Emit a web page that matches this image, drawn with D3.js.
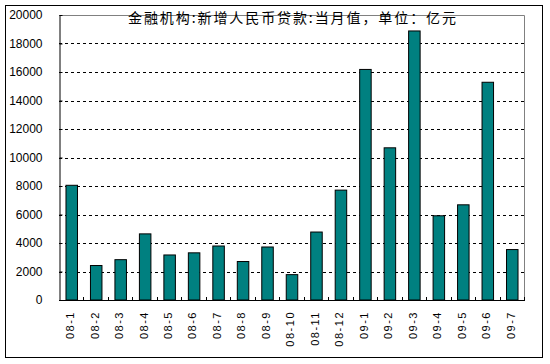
<!DOCTYPE html>
<html><head><meta charset="utf-8">
<script src="https://cdn.jsdelivr.net/npm/d3@7"></script>
<style>body{margin:0;background:#fff}svg{display:block}</style>
</head><body>
<svg id="c" width="550" height="364"></svg>
<script>
const categories = ["08-1","08-2","08-3","08-4","08-5","08-6","08-7","08-8","08-9","08-10","08-11","08-12","09-1","09-2","09-3","09-4","09-5","09-6","09-7"];
const values = [8050,2420,2830,4640,3160,3310,3790,2700,3720,1780,4770,7710,16180,10680,18880,5910,6680,15280,3540];
const yTicks = [0,2000,4000,6000,8000,10000,12000,14000,16000,18000,20000];
const title = "金融机构:新增人民币贷款:当月值，单位：亿元";

const svg = d3.select("#c");
const L = 59, R = 524, T = 15, B = 300;
const x = d3.scaleBand().domain(categories).range([L, R]).padding(0);
const y = d3.scaleLinear().domain([0, 20000]).range([B, T]);

// outer frame
svg.append("rect").attr("x",5.5).attr("y",5.5).attr("width",537).attr("height",352)
  .attr("fill","#fff").attr("stroke","#000").attr("stroke-width",1);

// gridlines
svg.append("g").selectAll("line").data(yTicks.filter(d=>d>0 && d<20000)).join("line")
  .attr("x1",L).attr("x2",R).attr("y1",d=>Math.round(y(d))+0.5).attr("y2",d=>Math.round(y(d))+0.5)
  .attr("stroke","#000").attr("stroke-width",1).attr("stroke-dasharray","3,3");

// top & right plot border (gray)
svg.append("path").attr("d",`M${L},${T+0.5}H${R+0.5}V${B}`).attr("fill","none").attr("stroke","#808080");

// bars
const bw = x.bandwidth()*0.47;
svg.append("g").selectAll("rect").data(categories).join("rect")
  .attr("x",(d)=>x(d)+x.bandwidth()/2-bw/2+0.5)
  .attr("y",(d,i)=>y(values[i]))
  .attr("width",bw)
  .attr("height",(d,i)=>B-y(values[i]))
  .attr("fill","#008080").attr("stroke","#000").attr("stroke-width",1);

// y axis
const ya = svg.append("g").attr("transform",`translate(${L+0.5},0)`)
  .call(d3.axisLeft(y).tickValues(yTicks).tickFormat(d3.format("d")).tickSizeInner(-3).tickSizeOuter(0).tickPadding(17));
ya.select(".domain").attr("stroke","#000");
ya.selectAll(".tick line").attr("stroke","#000");
ya.selectAll("text").attr("font-family","Arial, 'Liberation Sans', sans-serif").attr("font-size",12).attr("fill","#000");

// x axis
svg.append("line").attr("x1",L).attr("x2",R+1).attr("y1",B+0.5).attr("y2",B+0.5).attr("stroke","#000");
svg.append("g").selectAll("line").data(d3.range(1,categories.length+1)).join("line")
  .attr("x1",i=>Math.round(L+i*x.step())+0.5).attr("x2",i=>Math.round(L+i*x.step())+0.5)
  .attr("y1",B).attr("y2",B-3).attr("stroke","#000");
svg.append("g").selectAll("text").data(categories).join("text")
  .attr("transform",d=>`translate(${x(d)+x.bandwidth()/2-1},311) rotate(-90)`)
  .attr("text-anchor","end").attr("dy","0.35em")
  .attr("font-family","Arial, 'Liberation Sans', sans-serif").attr("font-size",11)
  .attr("letter-spacing",1.5)
  .text(d=>d);

// title
svg.append("text").attr("x",128).attr("y",23)
  .attr("font-family","'Noto Sans CJK SC', sans-serif").attr("font-size",14)
  .attr("textLength",328).attr("lengthAdjust","spacing")
  .attr("fill","#000").text(title);
</script>
</body></html>
